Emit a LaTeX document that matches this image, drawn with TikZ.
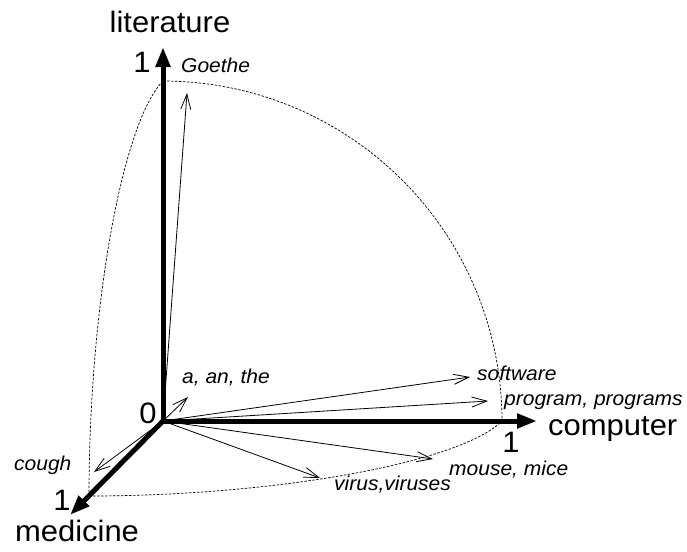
\documentclass[tikz,border=0pt]{standalone}
\usepackage{fontspec}
\setmainfont[FakeStretch=1.05]{Liberation Sans}
\usetikzlibrary{arrows.meta}
\begin{document}
\begin{tikzpicture}[x=1pt,y=-1pt,
  axis/.style={line width=5pt,-{Triangle[length=20pt,width=14pt]}},
  vec/.style={line width=0.8pt,-{Straight Barb[length=15pt,width=10pt,line width=0.8pt]}},
  sphere/.style={line width=0.7pt,dash pattern=on 2.5pt off 1.5pt},
  big/.style={inner sep=0pt,anchor=base,font=\fontsize{29.5}{34}\selectfont},
  word/.style={inner sep=0pt,anchor=base west,font=\fontsize{20}{24}\selectfont\itshape}]
\useasboundingbox (0,0) rectangle (687,551);
% origin and axis points
\coordinate (O) at (163,421);
\coordinate (Ltip) at (163,47);
\coordinate (Ctip) at (537,421);
\coordinate (Mtip) at (70,515);
% unit sphere octant
\draw[sphere] plot[domain=0:90,samples=80,smooth,variable=\t]
  ({163+339*sin(\t)},{421-340*cos(\t)});
\draw[sphere] plot[domain=0:90,samples=80,smooth,variable=\t]
  ({163-74*cos(\t)},{421+75*cos(\t)-340*sin(\t)});
\draw[sphere] plot[domain=0:90,samples=80,smooth,variable=\t]
  ({163-74*cos(\t)+339*sin(\t)},{421+75*cos(\t)});
% word vectors
\coordinate (goethe) at (187,93);
\coordinate (art) at (188,397);
\coordinate (soft) at (470,377);
\coordinate (prog) at (488,401);
\coordinate (mouse) at (433,459);
\coordinate (virus) at (320,478);
\coordinate (cough) at (94,472);
\foreach \v in {goethe,art,soft,prog,mouse,virus,cough}
  \draw[vec] (O) -- (\v);
% axes
\draw[axis] (O) -- (Ltip);
\draw[axis] (O) -- (Ctip);
\draw[axis] (O) -- (Mtip);
% axis labels
\node[big] (tlit) at (170,33) {literature};
\node[big,anchor=base west] (tcomp) at (548,435) {computer};
\node[big] (tmed) at (77,541) {medicine};
\node[big] (one1) at (142,72) {1};
\node[big] (one2) at (511,452) {1};
\node[big] (one3) at (62,510) {1};
\node[big] (zero) at (148,423) {0};
% word labels
\node[word] (lgoethe) at (181,72) {Goethe};
\node[word] (lart) at (182,383) {a, an, the};
\node[word] (lsoft) at (477,380) {software};
\node[word] (lprog) at (504,405) {program, programs};
\node[word] (lmouse) at (449,475) {mouse, mice};
\node[word] (lvirus) at (334,490) {virus,viruses};
\node[word] (lcough) at (14,470) {cough};
\end{tikzpicture}
\end{document}
